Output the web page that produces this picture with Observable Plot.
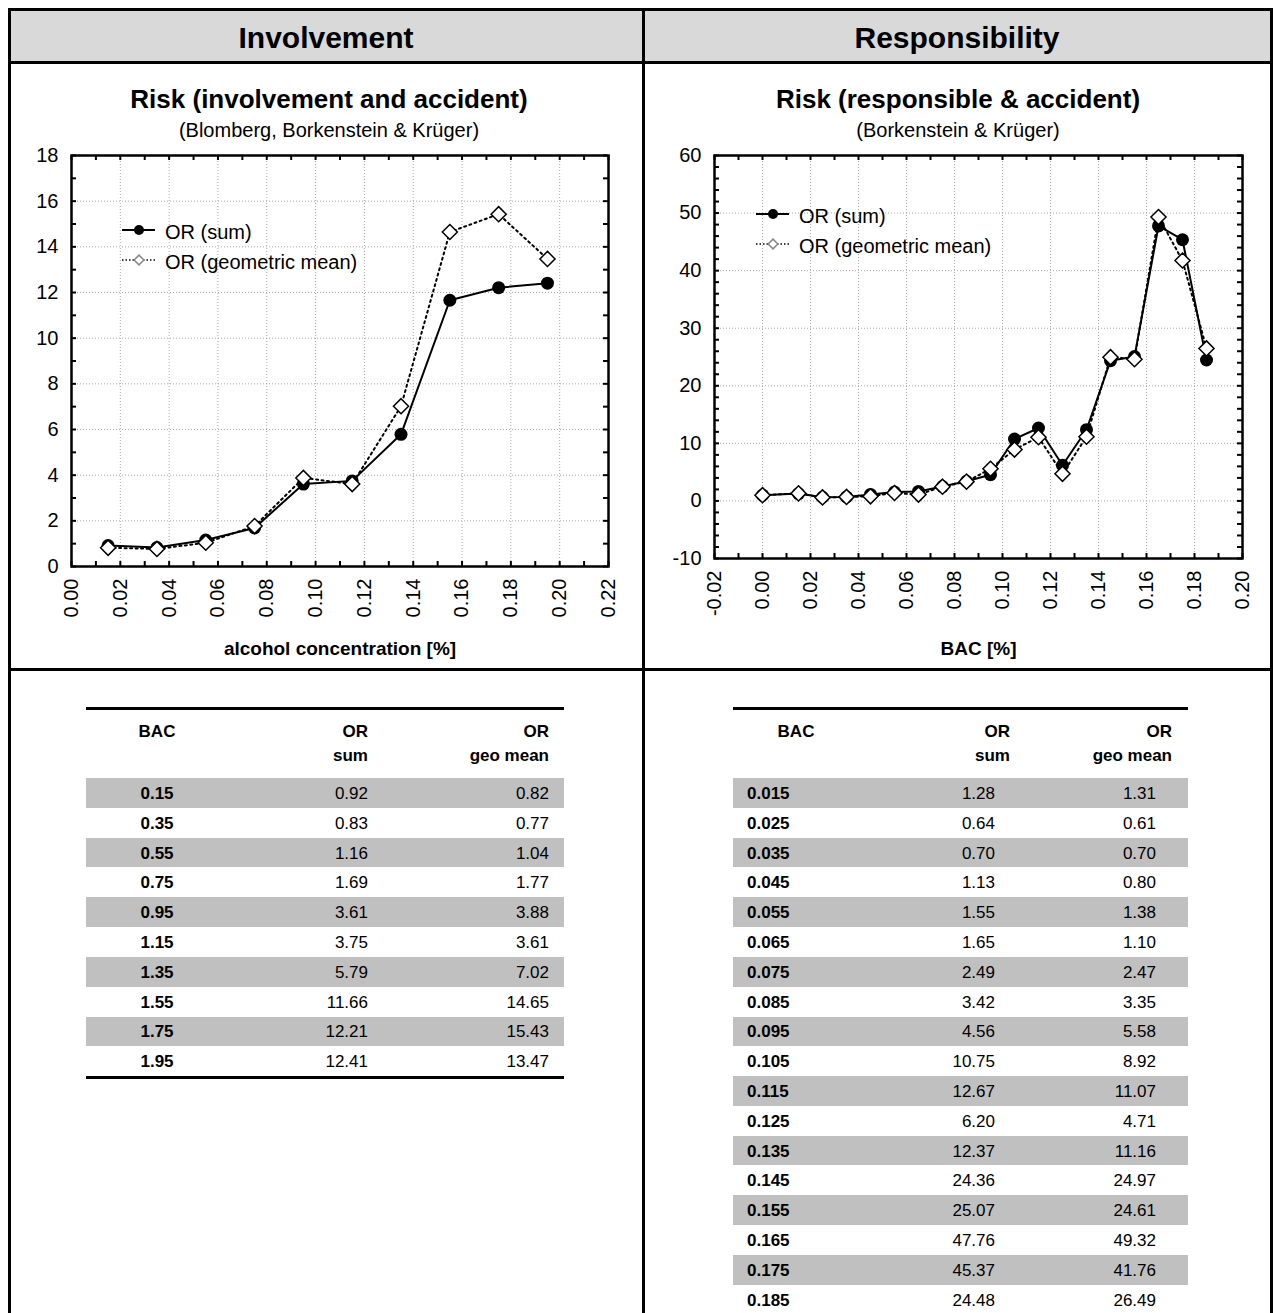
<!DOCTYPE html>
<html>
<head>
<meta charset="utf-8">
<script src="https://cdn.jsdelivr.net/npm/d3@7"></script>
<script src="https://cdn.jsdelivr.net/npm/@observablehq/plot@0.6"></script>
<style>
  html, body { margin: 0; padding: 0; background: #fff; }
  body { font-family: Arial, "Liberation Sans", sans-serif; color: #000; }
  #page { position: relative; width: 1274px; height: 1313px; overflow: hidden; }
  #page svg { overflow: visible; }
</style>
</head>
<body>
<div id="page"></div>
<script>
// ---- Involvement (Blomberg, Borkenstein & Krüger) ----
const involvementBAC = [0.015, 0.035, 0.055, 0.075, 0.095, 0.115, 0.135, 0.155, 0.175, 0.195];
const involvementLabels = ["0.15", "0.35", "0.55", "0.75", "0.95", "1.15", "1.35", "1.55", "1.75", "1.95"];
const involvementSum = [0.92, 0.83, 1.16, 1.69, 3.61, 3.75, 5.79, 11.66, 12.21, 12.41];
const involvementGeo = [0.82, 0.77, 1.04, 1.77, 3.88, 3.61, 7.02, 14.65, 15.43, 13.47];
const involvementXTicks = [0.00, 0.02, 0.04, 0.06, 0.08, 0.10, 0.12, 0.14, 0.16, 0.18, 0.20, 0.22];
const involvementYTicks = [0, 2, 4, 6, 8, 10, 12, 14, 16, 18];

// ---- Responsibility (Borkenstein & Krüger) ----
const responsibilityBAC = [0.015, 0.025, 0.035, 0.045, 0.055, 0.065, 0.075, 0.085, 0.095,
                           0.105, 0.115, 0.125, 0.135, 0.145, 0.155, 0.165, 0.175, 0.185];
const responsibilityLabels = ["0.015", "0.025", "0.035", "0.045", "0.055", "0.065", "0.075", "0.085", "0.095",
                              "0.105", "0.115", "0.125", "0.135", "0.145", "0.155", "0.165", "0.175", "0.185"];
const responsibilitySum = [1.28, 0.64, 0.70, 1.13, 1.55, 1.65, 2.49, 3.42, 4.56,
                           10.75, 12.67, 6.20, 12.37, 24.36, 25.07, 47.76, 45.37, 24.48];
const responsibilityGeo = [1.31, 0.61, 0.70, 0.80, 1.38, 1.10, 2.47, 3.35, 5.58,
                           8.92, 11.07, 4.71, 11.16, 24.97, 24.61, 49.32, 41.76, 26.49];
// reference category (BAC 0) has odds ratio 1
const referenceBAC = 0.0;
const referenceOR = 1.0;
const responsibilityXTicks = [-0.02, 0.00, 0.02, 0.04, 0.06, 0.08, 0.10, 0.12, 0.14, 0.16, 0.18, 0.20];
const responsibilityYTicks = [-10, 0, 10, 20, 30, 40, 50, 60];

const legendNames = ["OR (sum)", "OR (geometric mean)"];
const tableHeaders = [["BAC", ""], ["OR", "sum"], ["OR", "geo mean"]];

const FONT = 'Arial, "Liberation Sans", sans-serif';
const page = document.getElementById("page");

function box(x, y, w, h, bg = "#000") {
  const d = document.createElement("div");
  d.style.cssText = `position:absolute;left:${x}px;top:${y}px;width:${w}px;height:${h}px;background:${bg};`;
  page.appendChild(d);
  return d;
}

function label(text, x, y, {size = 17, weight = "normal", align = "center"} = {}) {
  const d = document.createElement("div");
  const tx = align === "center" ? "-50%" : align === "right" ? "-100%" : "0";
  d.style.cssText = `position:absolute;left:${x}px;top:${y}px;transform:translate(${tx},-50%);` +
    `font-size:${size}px;font-weight:${weight};white-space:nowrap;line-height:1;font-family:${FONT};`;
  d.textContent = text;
  page.appendChild(d);
  return d;
}

// ---- page grid ----
box(11, 11, 631, 50, "#d9d9d9");
box(645, 11, 625, 50, "#d9d9d9");
box(8, 8, 1265, 3);
box(8, 8, 3, 1305);
box(1270, 8, 3, 1305);
box(642, 8, 3, 1305);
box(8, 61, 1265, 3);
box(8, 668, 1265, 3);

label("Involvement", 326, 38, {size: 30, weight: "bold"});
label("Responsibility", 957, 38, {size: 30, weight: "bold"});

label("Risk (involvement and accident)", 329, 99, {size: 26, weight: "bold"});
label("(Blomberg, Borkenstein & Krüger)", 329, 130, {size: 20});
label("Risk (responsible & accident)", 958, 99, {size: 26, weight: "bold"});
label("(Borkenstein & Krüger)", 958, 130, {size: 20});

// ---- charts ----
function drawChart(cfg) {
  const {data, xTicks, yTicks, yMinorPerMajor, xLabel, svgLeft, svgTop, width, height, frame} = cfg;
  const fw = frame.right - frame.left, fh = frame.bottom - frame.top;
  const xDomain = [xTicks[0], xTicks[xTicks.length - 1]];
  const yDomain = [yTicks[0], yTicks[yTicks.length - 1]];
  // minor ticks: one between x majors, yMinorPerMajor subdivisions on y
  const xAll = [];
  xTicks.forEach((v, i) => { xAll.push(v); if (i < xTicks.length - 1) xAll.push((v + xTicks[i + 1]) / 2); });
  const yAll = [];
  yTicks.forEach((v, i) => {
    yAll.push(v);
    if (i < yTicks.length - 1) for (let k = 1; k < yMinorPerMajor; k++) yAll.push(v + (yTicks[i + 1] - v) * k / yMinorPerMajor);
  });
  const tickLen = 5;
  const grid = {stroke: "#a8a8a8", strokeOpacity: 1, strokeDasharray: "1,2", strokeWidth: 1};
  const tick = {stroke: "#000", strokeWidth: 2};
  const svg = Plot.plot({
    width, height,
    marginLeft: frame.left - svgLeft,
    marginRight: svgLeft + width - frame.right,
    marginTop: frame.top - svgTop,
    marginBottom: svgTop + height - frame.bottom,
    style: {fontFamily: FONT, fontSize: "20px", color: "#000", background: "none", overflow: "visible"},
    x: {domain: xDomain},
    y: {domain: yDomain},
    marks: [
      Plot.gridX(xTicks, grid),
      Plot.gridY(yTicks, grid),
      Plot.axisX(xTicks, {anchor: "bottom", tickSize: 0, tickPadding: 12, tickRotate: -90,
                          tickFormat: d => d.toFixed(2), label: null, fontSize: 20}),
      Plot.axisY(yTicks, {anchor: "left", tickSize: 0, tickPadding: 13,
                          tickFormat: d => String(d), label: null, fontSize: 20}),
      Plot.ruleX(xAll, {x: d => d, insetTop: fh - tickLen, ...tick}),
      Plot.ruleX(xAll, {x: d => d, insetBottom: fh - tickLen, ...tick}),
      Plot.ruleY(yAll, {y: d => d, insetRight: fw - tickLen, ...tick}),
      Plot.ruleY(yAll, {y: d => d, insetLeft: fw - tickLen, ...tick}),
      Plot.frame({stroke: "#000", strokeWidth: 2.5}),
      Plot.line(data, {x: "bac", y: "sum", stroke: "#000", strokeWidth: 2}),
      Plot.line(data, {x: "bac", y: "geo", stroke: "#000", strokeWidth: 2, strokeDasharray: "2,3.5"}),
      Plot.dot(data, {x: "bac", y: "sum", r: 6.5, fill: "#000"}),
      Plot.dot(data, {x: "bac", y: "geo", symbol: "diamond2", r: 6.8, fill: "#fff", stroke: "#000", strokeWidth: 1.5}),
      Plot.text([xLabel], {text: d => d, frameAnchor: "bottom", dy: cfg.labelDy,
                           fontSize: 19, fontWeight: "bold"})
    ]
  });
  svg.style.position = "absolute";
  svg.style.left = svgLeft + "px";
  svg.style.top = svgTop + "px";
  page.appendChild(svg);
}

const involvementData = involvementBAC.map((bac, i) => ({bac, sum: involvementSum[i], geo: involvementGeo[i]}));
const responsibilityData = [{bac: referenceBAC, sum: referenceOR, geo: referenceOR}]
  .concat(responsibilityBAC.map((bac, i) => ({bac, sum: responsibilitySum[i], geo: responsibilityGeo[i]})));

drawChart({
  data: involvementData, xTicks: involvementXTicks, yTicks: involvementYTicks, yMinorPerMajor: 2,
  xLabel: "alcohol concentration [%]", labelDy: 88,
  svgLeft: 11, svgTop: 140, width: 631, height: 525,
  frame: {left: 71, right: 608, top: 155, bottom: 566}
});
drawChart({
  data: responsibilityData, xTicks: responsibilityXTicks, yTicks: responsibilityYTicks, yMinorPerMajor: 5,
  xLabel: "BAC [%]", labelDy: 96,
  svgLeft: 645, svgTop: 140, width: 626, height: 525,
  frame: {left: 714, right: 1242, top: 155, bottom: 558}
});

// ---- legends ----
function drawLegend(x, y, gap) {
  const ns = "http://www.w3.org/2000/svg";
  const svg = document.createElementNS(ns, "svg");
  svg.setAttribute("width", 40); svg.setAttribute("height", gap + 20);
  svg.style.cssText = `position:absolute;left:${x}px;top:${y - 10}px;overflow:visible;`;
  const mk = (tag, attrs) => { const e = document.createElementNS(ns, tag); for (const k in attrs) e.setAttribute(k, attrs[k]); svg.appendChild(e); return e; };
  mk("line", {x1: 0, x2: 33, y1: 10, y2: 10, stroke: "#000", "stroke-width": 2});
  mk("circle", {cx: 17, cy: 10, r: 5, fill: "#000"});
  mk("line", {x1: 0, x2: 33, y1: 10 + gap, y2: 10 + gap, stroke: "#000", "stroke-width": 1.5, "stroke-dasharray": "1.5,2"});
  mk("path", {d: d3.symbol(d3.symbolDiamond2, 60)(), transform: `translate(17,${10 + gap})`, fill: "#fff", stroke: "#888", "stroke-width": 1.5});
  page.appendChild(svg);
  label(legendNames[0], x + 43, y + 2, {size: 20, align: "left"});
  label(legendNames[1], x + 43, y + gap + 2, {size: 20, align: "left"});
}
drawLegend(122, 230, 30);
drawLegend(756, 214, 30);

// ---- tables ----
function drawTable(cfg) {
  const {x0, x1, labels, sum, geo, cols, headerY, firstRow, pitch} = cfg;
  box(x0, 707, x1 - x0, 3);
  labels.forEach((lab, i) => {
    const cy = firstRow + i * pitch;
    if (i % 2 === 0) box(x0, cy - pitch / 2, x1 - x0, pitch, "#c0c0c0");
  });
  // header
  label(tableHeaders[0][0], cols.bacHead, headerY[0], {size: 17, weight: "bold", align: "center"});
  label(tableHeaders[1][0], cols.sumHead, headerY[0], {size: 17, weight: "bold", align: "right"});
  label(tableHeaders[1][1], cols.sumHead, headerY[1], {size: 17, weight: "bold", align: "right"});
  label(tableHeaders[2][0], cols.geoHead, headerY[0], {size: 17, weight: "bold", align: "right"});
  label(tableHeaders[2][1], cols.geoHead, headerY[1], {size: 17, weight: "bold", align: "right"});
  labels.forEach((lab, i) => {
    const cy = firstRow + i * pitch;
    label(lab, cols.bac, cy, {size: 17, weight: "bold", align: cols.bacAlign});
    label(sum[i].toFixed(2), cols.sum, cy, {size: 17, align: "right"});
    label(geo[i].toFixed(2), cols.geo, cy, {size: 17, align: "right"});
  });
  const last = firstRow + (labels.length - 1) * pitch + pitch / 2;
  box(x0, last, x1 - x0, 3);
}

drawTable({
  x0: 86, x1: 564, labels: involvementLabels, sum: involvementSum, geo: involvementGeo,
  headerY: [731, 755], firstRow: 793, pitch: 29.8,
  cols: {bacHead: 157, bac: 157, bacAlign: "center", sumHead: 368, sum: 368, geoHead: 549, geo: 549}
});
drawTable({
  x0: 733, x1: 1188, labels: responsibilityLabels, sum: responsibilitySum, geo: responsibilityGeo,
  headerY: [731, 755], firstRow: 793, pitch: 29.8,
  cols: {bacHead: 796, bac: 747, bacAlign: "left", sumHead: 1010, sum: 995, geoHead: 1172, geo: 1156}
});
</script>
</body>
</html>
